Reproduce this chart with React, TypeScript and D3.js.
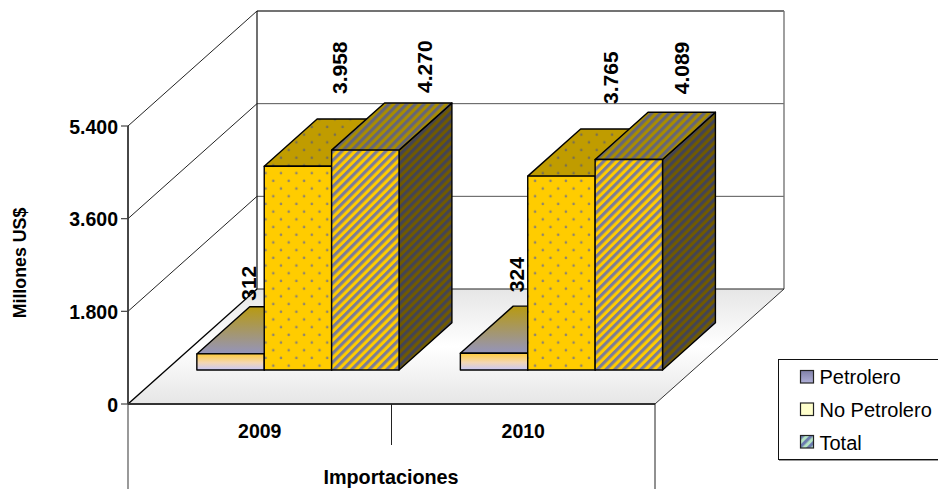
import React from "react";
import * as d3 from "d3";

const categories = ["2009", "2010"];
const seriesNames = ["Petrolero", "No Petrolero", "Total"];
const petrolero = [312, 324];
const noPetrolero = [3958, 3765];
const total = [4270, 4089];
const tickValues = [0, 1800, 3600, 5400];
const tickLabels = ["0", "1.800", "3.600", "5.400"];
const valueLabels = [["312", "324"], ["3.958", "3.765"], ["4.270", "4.089"]];

const W = 938, H = 489;
const FONT = "'Liberation Sans', Arial, sans-serif";
const seriesValues = [petrolero, noPetrolero, total];
const labelGap = [[6, 14], [25, 25], [10, 18]];
const labelShift = [[-27, -23], [-4, 4], [14, 7]];

const x0 = d3.scaleBand<string>().domain(categories).range([128, 655]);
const x1 = d3.scaleBand<string>().domain(seriesNames).range([0, x0.bandwidth()]).paddingOuter(0.455).paddingInner(0);
const y = d3.scaleLinear().domain([0, 5400]).range([404, 126]);
const depth = d3.scaleLinear().domain([0, 1]).range([0, 129]);
const rise = d3.scaleLinear().domain([0, 1]).range([0, 115]);
const P = (px: number, v: number, t: number): [number, number] => [px + depth(t), y(v) - rise(t)];
const poly = (pts: [number, number][]) => d3.line()(pts) + "Z";
const T0 = 0.296, T1 = 0.706;

function Stripes({ id, a, b }: { id: string; a: string; b: string }) {
  return (
    <pattern id={id} width={6.2} height={6.2} patternUnits="userSpaceOnUse" patternTransform="rotate(45)">
      <rect width={6.2} height={6.2} fill={a} />
      <rect x={0} width={3.1} height={6.2} fill={b} />
    </pattern>
  );
}
function Dots({ id, bg, dot }: { id: string; bg: string; dot: string }) {
  return (
    <pattern id={id} width={15.4} height={15.4} patternUnits="userSpaceOnUse">
      <rect width={15.4} height={15.4} fill={bg} />
      <circle cx={3.8} cy={3.8} r={1.3} fill={dot} />
      <circle cx={11.5} cy={11.5} r={1.3} fill={dot} />
    </pattern>
  );
}

export default function App() {
  const txt = { fontFamily: FONT, fill: "#000" } as const;
  const fills = [
    { front: "url(#petFront)", top: "url(#petTop)", side: "#6a6a80" },
    { front: "url(#dotF)", top: "url(#dotT)", side: "url(#dotS)" },
    { front: "url(#hatchF)", top: "url(#hatchT)", side: "url(#hatchS)" },
  ];
  return (
    <svg width={W} height={H} viewBox={`0 0 ${W} ${H}`} style={{ position: "absolute", left: 0, top: 0, background: "#fff" }}>
      <defs>
        <linearGradient id="floor" x1="0" y1="0" x2="0" y2="1">
          <stop offset="0" stopColor="#e6e6e6" />
          <stop offset="0.5" stopColor="#ffffff" />
          <stop offset="1" stopColor="#e6e6e6" />
        </linearGradient>
        <linearGradient id="petFront" x1="0" y1="0" x2="0" y2="1">
          <stop offset="0" stopColor="#ffcb3c" />
          <stop offset="0.55" stopColor="#f3d6b4" />
          <stop offset="1" stopColor="#c8c8f8" />
        </linearGradient>
        <linearGradient id="petTop" x1="0" y1="0" x2="0" y2="1">
          <stop offset="0" stopColor="#b89a10" />
          <stop offset="1" stopColor="#9494bc" />
        </linearGradient>
        <linearGradient id="swP" x1="0" y1="0" x2="0" y2="1">
          <stop offset="0" stopColor="#8080a8" />
          <stop offset="1" stopColor="#b0b0d8" />
        </linearGradient>
        <Dots id="dotF" bg="#ffcc00" dot="#8f8470" />
        <Dots id="dotT" bg="#c09c00" dot="#7a7050" />
        <Dots id="dotS" bg="#806800" dot="#605030" />
        <Stripes id="hatchF" a="#ffcc00" b="#7c7c98" />
        <Stripes id="hatchT" a="#a88c00" b="#666678" />
        <Stripes id="hatchS" a="#705a00" b="#444454" />
        <Stripes id="hatchL" a="#b4e4c4" b="#6c7cb0" />
      </defs>

      {/* back wall */}
      <path d={poly([P(128, 5400, 1), P(655, 5400, 1), P(655, 0, 1), P(128, 0, 1)])} fill="#fff" />
      {tickValues.slice(1, 3).map((v) => (
        <line key={v} x1={P(128, v, 1)[0]} y1={P(128, v, 1)[1]} x2={P(655, v, 1)[0]} y2={P(655, v, 1)[1]} stroke="#555" strokeWidth={1} />
      ))}
      <line x1={P(128, 5400, 1)[0]} y1={P(128, 5400, 1)[1]} x2={P(655, 5400, 1)[0]} y2={P(655, 5400, 1)[1]} stroke="#444" strokeWidth={1.6} />
      <line x1={P(128, 0, 1)[0]} y1={P(128, 0, 1)[1]} x2={P(128, 5400, 1)[0]} y2={P(128, 5400, 1)[1]} stroke="#111" strokeWidth={1.2} />
      <line x1={P(655, 0, 1)[0]} y1={P(655, 0, 1)[1]} x2={P(655, 5400, 1)[0]} y2={P(655, 5400, 1)[1]} stroke="#777" strokeWidth={1.4} />

      {/* floor */}
      <path d={poly([P(128, 0, 0), P(655, 0, 0), P(655, 0, 1), P(128, 0, 1)])} fill="url(#floor)" />
      <line x1={P(128, 0, 1)[0]} y1={P(128, 0, 1)[1]} x2={P(655, 0, 1)[0]} y2={P(655, 0, 1)[1]} stroke="#222" strokeWidth={1.2} />
      <line x1={P(655, 0, 0)[0]} y1={P(655, 0, 0)[1]} x2={P(655, 0, 1)[0]} y2={P(655, 0, 1)[1]} stroke="#333" strokeWidth={1} />

      {/* left wall lines */}
      {tickValues.map((v) => (
        <line key={v} x1={P(128, v, 0)[0]} y1={P(128, v, 0)[1]} x2={P(128, v, 1)[0]} y2={P(128, v, 1)[1]} stroke={v === 0 ? "#000" : "#222"} strokeWidth={v === 0 ? 1.4 : 1} />
      ))}

      {/* bars */}
      {categories.map((c, ci) =>
        seriesNames.map((s, si) => {
          const v = seriesValues[si][ci];
          const a = x0(c)! + x1(s)!;
          const b = a + x1.bandwidth();
          const sty = { stroke: "#000", strokeWidth: 1.4, strokeLinejoin: "round" as const };
          return (
            <g key={c + s}>
              <path d={poly([P(b, 0, T0), P(b, 0, T1), P(b, v, T1), P(b, v, T0)])} fill={fills[si].side} {...sty} />
              <path d={poly([P(a, v, T0), P(b, v, T0), P(b, v, T1), P(a, v, T1)])} fill={fills[si].top} {...sty} />
              <path d={poly([P(a, 0, T0), P(b, 0, T0), P(b, v, T0), P(a, v, T0)])} fill={fills[si].front} {...sty} />
            </g>
          );
        })
      )}

      {/* value labels */}
      {categories.map((c, ci) =>
        seriesNames.map((s, si) => {
          const v = seriesValues[si][ci];
          const [bx, by] = P(x0(c)! + x1(s)! + x1.bandwidth() / 2, v, T1);
          const px = bx + labelShift[si][ci];
          const py = by - labelGap[si][ci];
          return (
            <text key={c + s} transform={`translate(${px},${py}) rotate(-90)`} fontSize={21} fontWeight={700} {...txt}>
              {valueLabels[si][ci]}
            </text>
          );
        })
      )}

      {/* y axis */}
      <line x1={128} y1={y(5400)} x2={128} y2={404} stroke="#333" strokeWidth={1.8} />
      <line x1={128} y1={404} x2={128} y2={489} stroke="#808080" strokeWidth={1.6} />
      {tickValues.map((v, i) => (
        <g key={v}>
          <line x1={121} y1={y(v)} x2={128} y2={y(v)} stroke="#444" strokeWidth={1.2} />
          <text x={118} y={y(v) + 7.5} textAnchor="end" fontSize={19.5} fontWeight={700} {...txt}>{tickLabels[i]}</text>
        </g>
      ))}
      <text transform="translate(26,263) rotate(-90)" textAnchor="middle" fontSize={17.8} fontWeight={700} {...txt}>Millones US$</text>

      {/* x axis */}
      <line x1={128} y1={404} x2={655} y2={404} stroke="#333" strokeWidth={1.8} />
      <line x1={655} y1={404} x2={655} y2={489} stroke="#222" strokeWidth={1} />
      <line x1={x0(categories[1])!} y1={404} x2={x0(categories[1])!} y2={445} stroke="#222" strokeWidth={1} />
      {categories.map((c) => (
        <text key={c} x={x0(c)! + x0.bandwidth() / 2} y={438} textAnchor="middle" fontSize={19.5} fontWeight={700} {...txt}>{c}</text>
      ))}
      <text x={391} y={484} textAnchor="middle" fontSize={19.8} fontWeight={700} {...txt}>Importaciones</text>

      {/* legend */}
      <rect x={778.5} y={359.5} width={170} height={100} fill="#fff" stroke="#111" strokeWidth={1} />
      <line x1={779} y1={460.5} x2={938} y2={460.5} stroke="#999" strokeWidth={1} />
      {seriesNames.map((s, i) => (
        <g key={s}>
          <rect x={800.5} y={370.5 + i * 32.5} width={13} height={12.5} fill={["url(#swP)", "#ffffcc", "url(#hatchL)"][i]} stroke="#222" strokeWidth={1.2} />
          <text x={819.5} y={383.5 + i * 33} fontSize={20} {...txt}>{s}</text>
        </g>
      ))}
    </svg>
  );
}
